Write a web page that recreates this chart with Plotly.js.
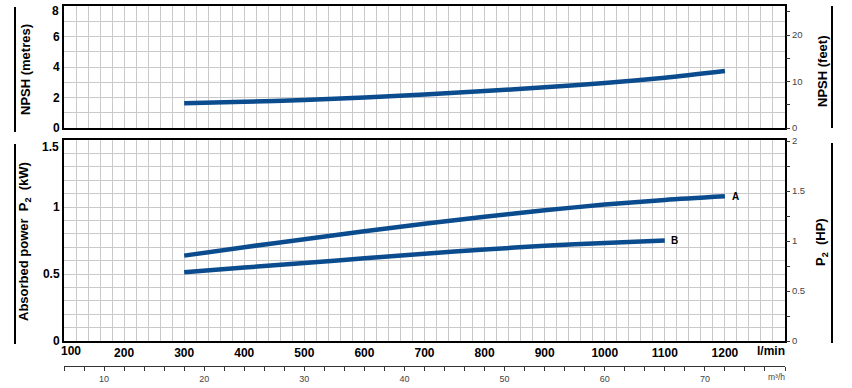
<!DOCTYPE html>
<html>
<head>
<meta charset="utf-8">
<script src="https://cdn.plot.ly/plotly-3.0.1.min.js"></script>
<style>html,body{margin:0;padding:0;background:#fff;}#chart{width:852px;height:388px;}</style>
</head>
<body>
<div id="chart"></div>
<script>
// ---- data ----
var flowNPSH = [300, 400, 500, 600, 700, 800, 900, 1000, 1100, 1200];        // l/min
var npshM    = [1.62, 1.72, 1.84, 2.00, 2.20, 2.42, 2.67, 2.95, 3.30, 3.74]; // metres

var flowA  = [300, 400, 500, 600, 700, 800, 900, 1000, 1100, 1200];
var powerA = [0.637, 0.700, 0.760, 0.819, 0.875, 0.927, 0.975, 1.018, 1.053, 1.080]; // kW

var flowB  = [300, 400, 500, 600, 700, 800, 900, 1000, 1100];
var powerB = [0.513, 0.548, 0.582, 0.617, 0.651, 0.683, 0.710, 0.732, 0.750]; // kW

var curveNames = ['A', 'B'];

var flowTickVals = [100, 200, 300, 400, 500, 600, 700, 800, 900, 1000, 1100, 1200];
var kwTickVals   = [0, 0.5, 1, 1.5];
var mTickVals    = [0, 2, 4, 6, 8];
var m3hTickVals  = [6,8,10,12,14,16,18,20,22,24,26,28,30,32,34,36,38,40,42,44,46,48,50,52,54,56,58,60,62,64,66,68,70,72,74,76,78];
var m3hLabelVals = [10, 20, 30, 40, 50, 60, 70];
var hpTickVals   = [0, 0.25, 0.5, 0.75, 1, 1.25, 1.5, 1.75, 2];
var hpLabelVals  = [0, 0.5, 1, 1.5, 2];
var ftTickVals   = [0, 5, 10, 15, 20, 25];
var ftLabelVals  = [0, 10, 20];

var KW_PER_HP = 0.7457;
var FT_PER_M = 3.28084;

// ---- helpers ----
function labelsFor(vals, shown){ return vals.map(function(v){ return shown.indexOf(v) >= 0 ? String(v) : ''; }); }

var BLUE = '#0b4c8e';
var GRID = '#c9c9c9';
var FONT = 'Liberation Sans, Arial, sans-serif';

var xRange = [100, 1300];
var kwRange = [0, 1.5];
var mRange = [0, 8];

var traces = [
  {x: flowNPSH, y: npshM, xaxis: 'x2', yaxis: 'y3', mode: 'lines',
   line: {color: BLUE, width: 4.5, shape: 'spline', smoothing: 0.8}, hoverinfo: 'skip', showlegend: false},
  {x: flowA, y: powerA, xaxis: 'x', yaxis: 'y', mode: 'lines',
   line: {color: BLUE, width: 4.5, shape: 'spline', smoothing: 0.8}, hoverinfo: 'skip', showlegend: false},
  {x: flowB, y: powerB, xaxis: 'x', yaxis: 'y', mode: 'lines',
   line: {color: BLUE, width: 4.5, shape: 'spline', smoothing: 0.8}, hoverinfo: 'skip', showlegend: false},
  // carriers for secondary axes
  {x: [xRange[0], xRange[1]], y: [null, null], xaxis: 'x', yaxis: 'y2', mode: 'lines', hoverinfo: 'skip', showlegend: false},
  {x: [xRange[0], xRange[1]], y: [null, null], xaxis: 'x2', yaxis: 'y4', mode: 'lines', hoverinfo: 'skip', showlegend: false},
  {x: [xRange[0] * 0.06, xRange[1] * 0.06], y: [null, null], xaxis: 'x3', yaxis: 'y', mode: 'lines', hoverinfo: 'skip', showlegend: false}
];

// plot area: top px 6, bottom px 370 -> 364 px tall
function py(p){ return (370 - p) / 364; }
function px(p){ return (p - 64) / 721; }

var boldTick = {family: FONT, size: 12, color: '#000', weight: 'bold'};

var axisCommon = {
  showline: true, linecolor: '#000', linewidth: 2, mirror: true,
  showgrid: true, gridcolor: GRID, gridwidth: 1, zeroline: false,
  ticks: '', fixedrange: true
};

// edge labels are drawn as annotations (offset inward like the reference)
var flowTickText = flowTickVals.map(function(v, i){ return i === 0 ? '' : String(v); });
var kwTickText = kwTickVals.map(function(v, i){ return i === kwTickVals.length - 1 ? '' : String(v); });
var mTickText = mTickVals.map(function(v, i){ return i === mTickVals.length - 1 ? '' : String(v); });

var layout = {
  width: 852, height: 388,
  margin: {l: 64, r: 67, t: 6, b: 18, pad: 0},
  paper_bgcolor: '#fff', plot_bgcolor: '#fff',
  font: {family: FONT, color: '#000'},
  showlegend: false,
  xaxis: Object.assign({}, axisCommon, {
    domain: [0, 1], anchor: 'y', range: xRange,
    tickmode: 'array', tickvals: flowTickVals, ticktext: flowTickText,
    tickfont: boldTick,
    minor: {dtick: 20, tick0: 100, showgrid: true, gridcolor: GRID, gridwidth: 1}
  }),
  yaxis: Object.assign({}, axisCommon, {
    domain: [py(341), py(140)], anchor: 'x', range: kwRange,
    tickmode: 'array', tickvals: kwTickVals, ticktext: kwTickText,
    tickfont: boldTick,
    minor: {dtick: 0.1, tick0: 0, showgrid: true, gridcolor: GRID, gridwidth: 1}
  }),
  yaxis2: {
    overlaying: 'y', side: 'right', anchor: 'x',
    range: [kwRange[0] / KW_PER_HP, kwRange[1] / KW_PER_HP],
    tickmode: 'array', tickvals: hpTickVals, ticktext: labelsFor(hpTickVals, hpLabelVals),
    ticks: 'outside', ticklen: 4, tickcolor: '#333', tickwidth: 1,
    showgrid: false, zeroline: false, showline: false,
    tickfont: {family: FONT, size: 9.5, color: '#444'}, fixedrange: true
  },
  xaxis2: Object.assign({}, axisCommon, {
    domain: [0, 1], anchor: 'y3', range: xRange,
    tickmode: 'array', tickvals: flowTickVals,
    showticklabels: false,
    minor: {dtick: 20, tick0: 100, showgrid: true, gridcolor: GRID, gridwidth: 1}
  }),
  yaxis3: Object.assign({}, axisCommon, {
    domain: [py(128), py(6)], anchor: 'x2', range: mRange,
    tickmode: 'array', tickvals: mTickVals, ticktext: mTickText,
    tickfont: boldTick,
    minor: {dtick: 1, tick0: 0, showgrid: true, gridcolor: GRID, gridwidth: 1}
  }),
  yaxis4: {
    overlaying: 'y3', side: 'right', anchor: 'x2',
    range: [mRange[0] * FT_PER_M, mRange[1] * FT_PER_M],
    tickmode: 'array', tickvals: ftTickVals, ticktext: labelsFor(ftTickVals, ftLabelVals),
    ticks: 'outside', ticklen: 4, tickcolor: '#333', tickwidth: 1,
    showgrid: false, zeroline: false, showline: false,
    tickfont: {family: FONT, size: 9.5, color: '#444'}, fixedrange: true
  },
  xaxis3: {
    overlaying: 'x', anchor: 'free', position: py(366), side: 'bottom',
    range: [xRange[0] * 0.06, xRange[1] * 0.06],
    tickmode: 'array', tickvals: m3hTickVals, ticktext: labelsFor(m3hTickVals, m3hLabelVals),
    ticks: 'outside', ticklen: 4, tickcolor: '#333', tickwidth: 1,
    showline: true, linecolor: '#333', linewidth: 1,
    showgrid: false, zeroline: false,
    tickfont: {family: FONT, size: 9, color: '#444'}, fixedrange: true
  },
  annotations: [
    {text: curveNames[0], x: flowA[flowA.length - 1], y: powerA[powerA.length - 1], xref: 'x', yref: 'y',
     xanchor: 'left', yanchor: 'middle', xshift: 5, showarrow: false,
     font: {family: FONT, size: 10, color: '#000', weight: 'bold'}},
    {text: curveNames[1], x: flowB[flowB.length - 1], y: powerB[powerB.length - 1], xref: 'x', yref: 'y',
     xanchor: 'left', yanchor: 'middle', xshift: 4, showarrow: false,
     font: {family: FONT, size: 10, color: '#000', weight: 'bold'}},
    {text: String(flowTickVals[0]), x: px(71), y: py(351), xref: 'paper', yref: 'paper', xanchor: 'center', yanchor: 'middle',
     showarrow: false, font: boldTick},
    {text: String(kwTickVals[kwTickVals.length - 1]), x: px(61), y: py(147), xref: 'paper', yref: 'paper', xanchor: 'right', yanchor: 'middle',
     showarrow: false, font: boldTick},
    {text: String(mTickVals[mTickVals.length - 1]), x: px(61), y: py(11), xref: 'paper', yref: 'paper', xanchor: 'right', yanchor: 'middle',
     showarrow: false, font: boldTick},
    {text: 'l/min', x: px(787), y: py(351), xref: 'paper', yref: 'paper', xanchor: 'right', yanchor: 'middle',
     showarrow: false, font: {family: FONT, size: 12, color: '#000', weight: 'bold'}},
    {text: 'm³/h', x: px(787), y: py(377), xref: 'paper', yref: 'paper', xanchor: 'right', yanchor: 'middle',
     showarrow: false, font: {family: FONT, size: 8.5, color: '#444'}},
    {text: 'NPSH (metres)', x: px(25), y: py(70), xref: 'paper', yref: 'paper', textangle: -90,
     xanchor: 'center', yanchor: 'middle', showarrow: false,
     font: {family: FONT, size: 13, color: '#000', weight: 'bold'}},
    {text: 'NPSH (feet)', x: px(822), y: py(71), xref: 'paper', yref: 'paper', textangle: -90,
     xanchor: 'center', yanchor: 'middle', showarrow: false,
     font: {family: FONT, size: 13, color: '#000', weight: 'bold'}},
    {text: 'Absorbed power  P<sub>2</sub>  (kW)', x: px(25), y: py(242), xref: 'paper', yref: 'paper', textangle: -90,
     xanchor: 'center', yanchor: 'middle', showarrow: false,
     font: {family: FONT, size: 13, color: '#000', weight: 'bold'}},
    {text: 'P<sub>2</sub>  (HP)', x: px(822), y: py(242), xref: 'paper', yref: 'paper', textangle: -90,
     xanchor: 'center', yanchor: 'middle', showarrow: false,
     font: {family: FONT, size: 13, color: '#000', weight: 'bold'}}
  ],
  shapes: [
    {type: 'line', xref: 'paper', yref: 'paper', x0: px(15), x1: px(15), y0: py(7), y1: py(132), line: {color: '#000', width: 2}},
    {type: 'line', xref: 'paper', yref: 'paper', x0: px(15), x1: px(15), y0: py(144), y1: py(344), line: {color: '#000', width: 2}},
    {type: 'line', xref: 'paper', yref: 'paper', x0: px(832), x1: px(832), y0: py(6), y1: py(128), line: {color: '#000', width: 2}},
    {type: 'line', xref: 'paper', yref: 'paper', x0: px(832), x1: px(832), y0: py(143), y1: py(343), line: {color: '#000', width: 2}}
  ]
};

Plotly.newPlot('chart', traces, layout, {staticPlot: true, displayModeBar: false});
</script>
</body>
</html>
